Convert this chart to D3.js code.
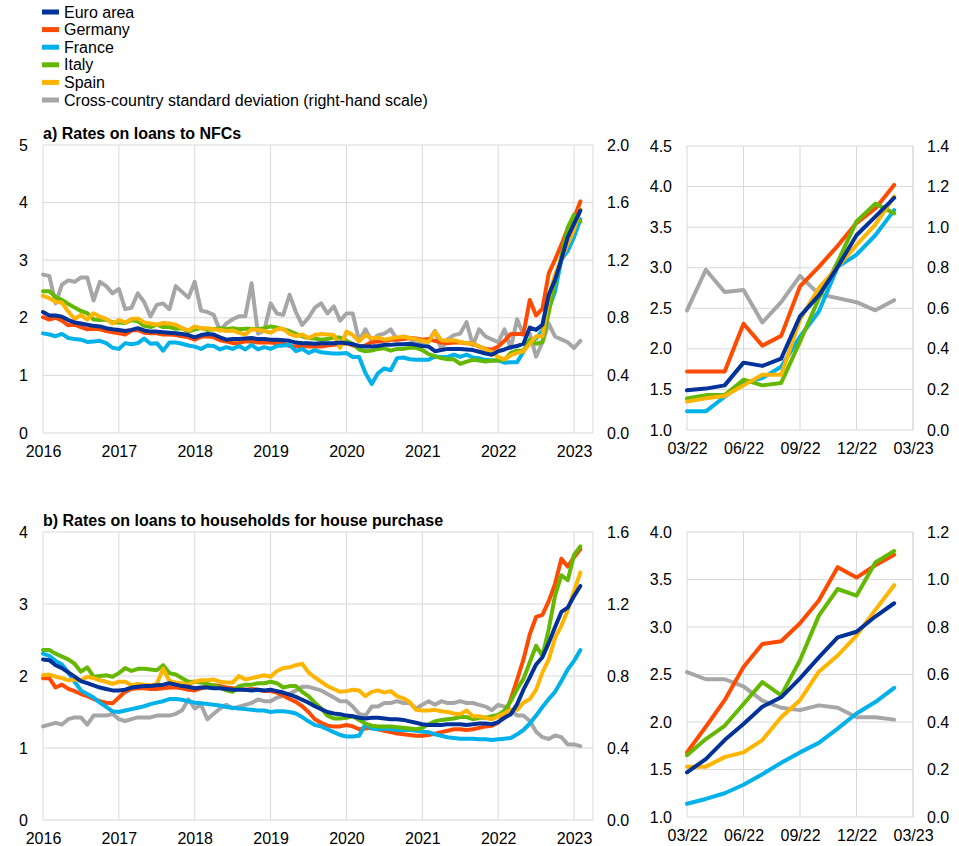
<!DOCTYPE html>
<html>
<head>
<meta charset="utf-8">
<script src="https://cdn.jsdelivr.net/npm/d3@7"></script>
<style>
  body { margin: 0; background: #fff; }
  text { font-family: "Liberation Sans", Arial, sans-serif; fill: #000; }
</style>
</head>
<body>
<div id="chart"></div>
<script>
// monthly observations, Jan 2016 - Feb 2023
var seriesNames = ["Euro area", "Germany", "France", "Italy", "Spain", "Cross-country standard deviation (right-hand scale)"];
var seriesColors = ["#003299", "#ff4b00", "#00b1ea", "#65b800", "#ffb400", "#a6a6a6"];

var yearLabels = ["2016", "2017", "2018", "2019", "2020", "2021", "2022", "2023"];
var zoomLabels = ["03/22", "06/22", "09/22", "12/22", "03/23"];

// a) Rates on loans to NFCs
var nfcEA = [2.10, 2.04, 2.04, 2.02, 1.96, 1.92, 1.90, 1.88, 1.86, 1.85, 1.82, 1.80,
  1.79, 1.77, 1.79, 1.82, 1.78, 1.76, 1.76, 1.75, 1.74, 1.73, 1.72, 1.70,
  1.66, 1.70, 1.72, 1.71, 1.66, 1.62, 1.63, 1.63, 1.64, 1.65, 1.63, 1.63,
  1.62, 1.62, 1.61, 1.60, 1.57, 1.56, 1.56, 1.55, 1.56, 1.56, 1.56, 1.57,
  1.56, 1.54, 1.51, 1.50, 1.50, 1.51, 1.53, 1.53, 1.54, 1.54, 1.55, 1.53,
  1.51, 1.50, 1.42, 1.44, 1.46, 1.46, 1.46, 1.45, 1.44, 1.41, 1.38, 1.36,
  1.42, 1.45, 1.49, 1.51, 1.55, 1.83, 1.79, 1.88, 2.40, 2.66, 3.01, 3.40, 3.63, 3.86];
var nfcDE = [2.01, 1.97, 2.00, 1.95, 1.87, 1.88, 1.84, 1.80, 1.81, 1.80, 1.77, 1.75,
  1.73, 1.71, 1.78, 1.79, 1.74, 1.73, 1.73, 1.71, 1.71, 1.70, 1.68, 1.66,
  1.62, 1.67, 1.68, 1.66, 1.61, 1.59, 1.56, 1.56, 1.59, 1.59, 1.57, 1.57,
  1.57, 1.56, 1.55, 1.51, 1.50, 1.51, 1.50, 1.50, 1.50, 1.52, 1.53, 1.55,
  1.56, 1.52, 1.50, 1.52, 1.58, 1.59, 1.60, 1.62, 1.62, 1.63, 1.65, 1.64,
  1.62, 1.63, 1.60, 1.57, 1.56, 1.57, 1.57, 1.56, 1.55, 1.50, 1.46, 1.45,
  1.50, 1.60, 1.72, 1.72, 1.72, 2.31, 2.04, 2.16, 2.77, 3.01, 3.27, 3.55, 3.73, 4.02];
var nfcFR = [1.73, 1.71, 1.68, 1.72, 1.65, 1.63, 1.62, 1.58, 1.59, 1.60, 1.56, 1.48,
  1.46, 1.56, 1.54, 1.56, 1.64, 1.55, 1.56, 1.43, 1.57, 1.57, 1.55, 1.52,
  1.50, 1.46, 1.52, 1.51, 1.45, 1.49, 1.46, 1.51, 1.45, 1.53, 1.45, 1.49,
  1.46, 1.51, 1.52, 1.53, 1.42, 1.46, 1.39, 1.44, 1.40, 1.39, 1.38, 1.38,
  1.39, 1.32, 1.32, 1.04, 0.85, 1.04, 1.12, 1.09, 1.30, 1.31, 1.28, 1.27,
  1.27, 1.27, 1.33, 1.32, 1.32, 1.36, 1.32, 1.36, 1.31, 1.30, 1.27, 1.26,
  1.26, 1.22, 1.23, 1.23, 1.41, 1.58, 1.64, 1.78, 2.15, 2.46, 3.01, 3.16, 3.40, 3.71];
var nfcIT = [2.46, 2.46, 2.36, 2.31, 2.24, 2.18, 2.12, 2.08, 1.97, 1.96, 1.97, 1.92,
  1.92, 1.91, 1.96, 1.94, 1.86, 1.84, 1.88, 1.84, 1.84, 1.81, 1.82, 1.76,
  1.80, 1.82, 1.79, 1.80, 1.82, 1.80, 1.82, 1.80, 1.81, 1.81, 1.80, 1.82,
  1.85, 1.83, 1.80, 1.77, 1.72, 1.68, 1.65, 1.64, 1.62, 1.63, 1.66, 1.66,
  1.60, 1.55, 1.45, 1.42, 1.43, 1.46, 1.47, 1.43, 1.46, 1.46, 1.48, 1.48,
  1.44, 1.37, 1.33, 1.30, 1.28, 1.28, 1.20, 1.24, 1.27, 1.26, 1.24, 1.26,
  1.26, 1.27, 1.39, 1.43, 1.43, 1.62, 1.55, 1.58, 2.09, 2.62, 3.07, 3.57, 3.79, 3.67];
var nfcES = [2.38, 2.34, 2.28, 2.26, 2.11, 1.98, 2.05, 1.97, 2.08, 2.02, 1.98, 1.90,
  1.96, 1.92, 1.98, 1.99, 1.92, 1.90, 1.88, 1.91, 1.90, 1.88, 1.82, 1.78,
  1.85, 1.82, 1.82, 1.80, 1.79, 1.77, 1.78, 1.74, 1.71, 1.80, 1.79, 1.77,
  1.74, 1.80, 1.81, 1.72, 1.68, 1.71, 1.65, 1.70, 1.72, 1.71, 1.70, 1.48,
  1.76, 1.70, 1.59, 1.70, 1.64, 1.66, 1.62, 1.64, 1.66, 1.67, 1.65, 1.63,
  1.60, 1.58, 1.76, 1.61, 1.60, 1.61, 1.58, 1.56, 1.55, 1.50, 1.45, 1.40,
  1.32, 1.28, 1.35, 1.39, 1.42, 1.55, 1.68, 1.68, 2.36, 2.75, 3.01, 3.28, 3.53, 3.88];
var nfcSD = [1.10, 1.09, 0.90, 1.03, 1.06, 1.05, 1.08, 1.08, 0.92, 1.05, 1.02, 0.97,
  1.00, 0.86, 0.87, 0.97, 0.91, 0.81, 0.89, 0.90, 0.86, 1.02, 0.98, 0.94,
  1.05, 0.85, 0.84, 0.82, 0.71, 0.76, 0.79, 0.81, 0.81, 1.04, 0.69, 0.71,
  0.90, 0.83, 0.82, 0.96, 0.84, 0.75, 0.80, 0.87, 0.90, 0.83, 0.88, 0.78,
  0.83, 0.83, 0.64, 0.72, 0.64, 0.68, 0.69, 0.72, 0.65, 0.67, 0.66, 0.62,
  0.63, 0.64, 0.71, 0.58, 0.65, 0.68, 0.69, 0.77, 0.61, 0.72, 0.67, 0.65,
  0.63, 0.72, 0.59, 0.79, 0.68, 0.69, 0.53, 0.63, 0.76, 0.67, 0.65, 0.63, 0.59, 0.64];

// b) Rates on loans to households for house purchase
var hhEA = [2.23, 2.22, 2.15, 2.11, 2.05, 1.99, 1.93, 1.90, 1.87, 1.84, 1.82, 1.80,
  1.80, 1.81, 1.84, 1.85, 1.86, 1.86, 1.87, 1.88, 1.90, 1.88, 1.86, 1.85,
  1.83, 1.84, 1.84, 1.83, 1.83, 1.82, 1.81, 1.81, 1.81, 1.80, 1.81, 1.80,
  1.81, 1.79, 1.77, 1.74, 1.71, 1.67, 1.63, 1.58, 1.54, 1.50, 1.48, 1.47,
  1.45, 1.44, 1.42, 1.41, 1.42, 1.42, 1.41, 1.40, 1.40, 1.39, 1.37, 1.35,
  1.33, 1.32, 1.32, 1.32, 1.33, 1.33, 1.33, 1.32, 1.33, 1.34, 1.34, 1.33,
  1.36, 1.42, 1.47, 1.61, 1.81, 1.98, 2.16, 2.26, 2.46, 2.68, 2.89, 2.95, 3.11, 3.25];
var hhDE = [1.97, 1.97, 1.84, 1.88, 1.82, 1.79, 1.75, 1.72, 1.68, 1.65, 1.63, 1.62,
  1.70, 1.78, 1.82, 1.83, 1.83, 1.82, 1.82, 1.83, 1.84, 1.84, 1.83, 1.81,
  1.80, 1.83, 1.85, 1.87, 1.86, 1.84, 1.83, 1.82, 1.81, 1.82, 1.81, 1.79,
  1.79, 1.77, 1.73, 1.68, 1.64, 1.58, 1.50, 1.40, 1.35, 1.31, 1.30, 1.30,
  1.32, 1.30, 1.26, 1.27, 1.28, 1.26, 1.24, 1.22, 1.20, 1.19, 1.18, 1.17,
  1.17, 1.18, 1.20, 1.22, 1.24, 1.26, 1.26, 1.25, 1.26, 1.28, 1.30, 1.31,
  1.35, 1.45, 1.68, 1.95, 2.23, 2.58, 2.82, 2.85, 3.04, 3.28, 3.63, 3.52, 3.65, 3.76];
var hhFR = [2.31, 2.28, 2.21, 2.16, 2.05, 1.92, 1.80, 1.75, 1.70, 1.63, 1.57, 1.51,
  1.50, 1.52, 1.54, 1.56, 1.58, 1.61, 1.63, 1.65, 1.68, 1.68, 1.67, 1.65,
  1.63, 1.62, 1.61, 1.60, 1.59, 1.57, 1.56, 1.55, 1.54, 1.53, 1.52, 1.52,
  1.50, 1.51, 1.51, 1.50, 1.48, 1.43, 1.37, 1.32, 1.30, 1.26, 1.22, 1.18,
  1.16, 1.16, 1.17, 1.33, 1.27, 1.26, 1.27, 1.26, 1.25, 1.25, 1.25, 1.24,
  1.23, 1.22, 1.19, 1.17, 1.15, 1.14, 1.13, 1.13, 1.13, 1.12, 1.12, 1.11,
  1.12, 1.13, 1.14, 1.19, 1.25, 1.34, 1.45, 1.57, 1.68, 1.78, 1.93, 2.09, 2.21, 2.36];
var hhIT = [2.36, 2.36, 2.31, 2.27, 2.23, 2.17, 2.06, 2.12, 1.99, 2.00, 2.01, 1.99,
  2.04, 2.11, 2.07, 2.10, 2.10, 2.09, 2.08, 2.15, 2.04, 2.02, 1.97, 1.92,
  1.92, 1.91, 1.89, 1.87, 1.84, 1.80, 1.78, 1.86, 1.88, 1.88, 1.90, 1.90,
  1.92, 1.90, 1.84, 1.86, 1.86, 1.78, 1.72, 1.63, 1.55, 1.45, 1.41, 1.41,
  1.42, 1.44, 1.39, 1.34, 1.31, 1.30, 1.30, 1.30, 1.29, 1.28, 1.27, 1.26,
  1.28, 1.33, 1.37, 1.39, 1.40, 1.41, 1.43, 1.43, 1.40, 1.42, 1.42, 1.44,
  1.46, 1.52, 1.65, 1.82, 1.96, 2.19, 2.42, 2.28, 2.65, 3.12, 3.40, 3.33, 3.68, 3.80];
var hhES = [2.01, 2.02, 1.99, 1.97, 1.94, 1.95, 1.94, 1.99, 1.97, 1.94, 1.92, 1.89,
  1.92, 1.92, 1.87, 1.89, 1.88, 1.87, 1.89, 2.10, 1.93, 1.91, 1.90, 1.88,
  1.92, 1.94, 1.94, 1.95, 1.92, 1.91, 1.91, 2.00, 1.95, 1.97, 1.99, 2.01,
  1.99, 2.07, 2.11, 2.12, 2.15, 2.17, 2.05, 1.98, 1.92, 1.86, 1.82, 1.78,
  1.79, 1.81, 1.80, 1.72, 1.78, 1.80, 1.77, 1.79, 1.72, 1.69, 1.64, 1.53,
  1.52, 1.52, 1.53, 1.51, 1.50, 1.48, 1.47, 1.52, 1.44, 1.44, 1.42, 1.40,
  1.44, 1.48, 1.53, 1.53, 1.63, 1.68, 1.81, 2.05, 2.23, 2.53, 2.70, 2.91, 3.18, 3.44];
var hhSD = [0.52, 0.53, 0.54, 0.53, 0.56, 0.57, 0.57, 0.53, 0.58, 0.58, 0.58, 0.59,
  0.56, 0.55, 0.56, 0.57, 0.57, 0.57, 0.58, 0.58, 0.58, 0.59, 0.61, 0.67,
  0.62, 0.64, 0.56, 0.59, 0.62, 0.64, 0.62, 0.63, 0.64, 0.65, 0.67, 0.66,
  0.66, 0.68, 0.69, 0.70, 0.72, 0.74, 0.74, 0.73, 0.72, 0.70, 0.68, 0.66,
  0.66, 0.63, 0.59, 0.58, 0.63, 0.63, 0.65, 0.65, 0.66, 0.65, 0.65, 0.62,
  0.64, 0.66, 0.64, 0.66, 0.65, 0.65, 0.66, 0.65, 0.65, 0.64, 0.63, 0.61,
  0.64, 0.63, 0.61, 0.58, 0.58, 0.55, 0.49, 0.46, 0.45, 0.47, 0.46, 0.42, 0.42, 0.41];

var zoomStart = 74; // March 2022

var svg = d3.select("#chart")
  .append("svg")
  .attr("width", 959)
  .attr("height", 846);

// legend
var legend = svg.append("g");
seriesNames.forEach(function(name, i) {
  var y = 12 + i * 17.6;
  legend.append("rect")
    .attr("x", 42).attr("y", y - 2.5)
    .attr("width", 17).attr("height", 5)
    .attr("fill", seriesColors[i]);
  legend.append("text")
    .attr("x", 64).attr("y", y + 5.5)
    .style("font-size", "16px")
    .text(name);
});

function drawPanel(p) {
  var g = svg.append("g");

  var x = d3.scaleLinear().domain(p.xDomain).range([p.left, p.right]);
  var yL = d3.scaleLinear().domain(p.leftDomain).range([p.bottom, p.top]);
  var yR = d3.scaleLinear().domain(p.rightDomain).range([p.bottom, p.top]);

  var leftTicks = d3.range(p.leftDomain[0], p.leftDomain[1] + 1e-9, p.leftStep);
  var rightTicks = d3.range(p.rightDomain[0], p.rightDomain[1] + 1e-9, p.rightStep);

  // grid
  g.append("g").selectAll("line").data(leftTicks).join("line")
    .attr("x1", p.left).attr("x2", p.right)
    .attr("y1", function(d) { return yL(d); })
    .attr("y2", function(d) { return yL(d); })
    .attr("stroke", "#d9d9d9").attr("stroke-width", 1);
  g.append("g").selectAll("line").data(p.xTicks.concat([p.xDomain[1]])).join("line")
    .attr("x1", function(d) { return x(d); })
    .attr("x2", function(d) { return x(d); })
    .attr("y1", p.top).attr("y2", p.bottom)
    .attr("stroke", "#d9d9d9").attr("stroke-width", 1);

  // axes
  var axL = g.append("g")
    .attr("transform", "translate(" + p.left + ",0)")
    .call(d3.axisLeft(yL).tickValues(leftTicks).tickSize(0).tickPadding(15)
      .tickFormat(d3.format(p.leftFmt)));
  var axR = g.append("g")
    .attr("transform", "translate(" + p.right + ",0)")
    .call(d3.axisRight(yR).tickValues(rightTicks).tickSize(0).tickPadding(14)
      .tickFormat(d3.format(".1f")));
  var axB = g.append("g")
    .attr("transform", "translate(0," + p.bottom + ")")
    .call(d3.axisBottom(x).tickValues(p.xTicks).tickSize(0).tickPadding(13)
      .tickFormat(function(d, i) { return p.xLabels[i]; }));
  [axL, axR, axB].forEach(function(a) {
    a.select(".domain").remove();
    a.selectAll("text").style("font-size", "16px").attr("fill", "#000")
      .style("font-family", "'Liberation Sans', Arial, sans-serif");
  });

  var line = function(scale) {
    return d3.line()
      .x(function(d, i) { return x(i); })
      .y(function(d) { return scale(d); });
  };

  // std dev first, euro area last
  var order = [5, 1, 2, 3, 4, 0];
  order.forEach(function(k) {
    g.append("path")
      .datum(p.series[k])
      .attr("fill", "none")
      .attr("stroke", seriesColors[k])
      .attr("stroke-width", 4)
      .attr("stroke-linejoin", "round")
      .attr("stroke-linecap", "round")
      .attr("d", line(k === 5 ? yR : yL));
  });

  if (p.title) {
    g.append("text")
      .attr("x", p.left).attr("y", p.top - 6.5)
      .style("font-size", "16px")
      .style("font-weight", "bold")
      .text(p.title);
  }
}

var yearTicks = yearLabels.map(function(d, i) { return i * 12; });
var zoomTicks = zoomLabels.map(function(d, i) { return i * 3; });

function tail(a) { return a.slice(zoomStart); }

var nfcAll = [nfcEA, nfcDE, nfcFR, nfcIT, nfcES, nfcSD];
var hhAll = [hhEA, hhDE, hhFR, hhIT, hhES, hhSD];

drawPanel({
  title: "a) Rates on loans to NFCs",
  left: 43, right: 593, top: 145, bottom: 433,
  xDomain: [0, 87], xTicks: yearTicks, xLabels: yearLabels,
  leftDomain: [0, 5], leftStep: 1, leftFmt: "d",
  rightDomain: [0, 2], rightStep: 0.4,
  series: nfcAll
});
drawPanel({
  left: 687, right: 913, top: 146, bottom: 430,
  xDomain: [0, 12], xTicks: zoomTicks, xLabels: zoomLabels,
  leftDomain: [1, 4.5], leftStep: 0.5, leftFmt: ".1f",
  rightDomain: [0, 1.4], rightStep: 0.2,
  series: nfcAll.map(tail)
});
drawPanel({
  title: "b) Rates on loans to households for house purchase",
  left: 43, right: 593, top: 532, bottom: 820,
  xDomain: [0, 87], xTicks: yearTicks, xLabels: yearLabels,
  leftDomain: [0, 4], leftStep: 1, leftFmt: "d",
  rightDomain: [0, 1.6], rightStep: 0.4,
  series: hhAll
});
drawPanel({
  left: 687, right: 913, top: 532, bottom: 817,
  xDomain: [0, 12], xTicks: zoomTicks, xLabels: zoomLabels,
  leftDomain: [1, 4], leftStep: 0.5, leftFmt: ".1f",
  rightDomain: [0, 1.2], rightStep: 0.2,
  series: hhAll.map(tail)
});
</script>
</body>
</html>
